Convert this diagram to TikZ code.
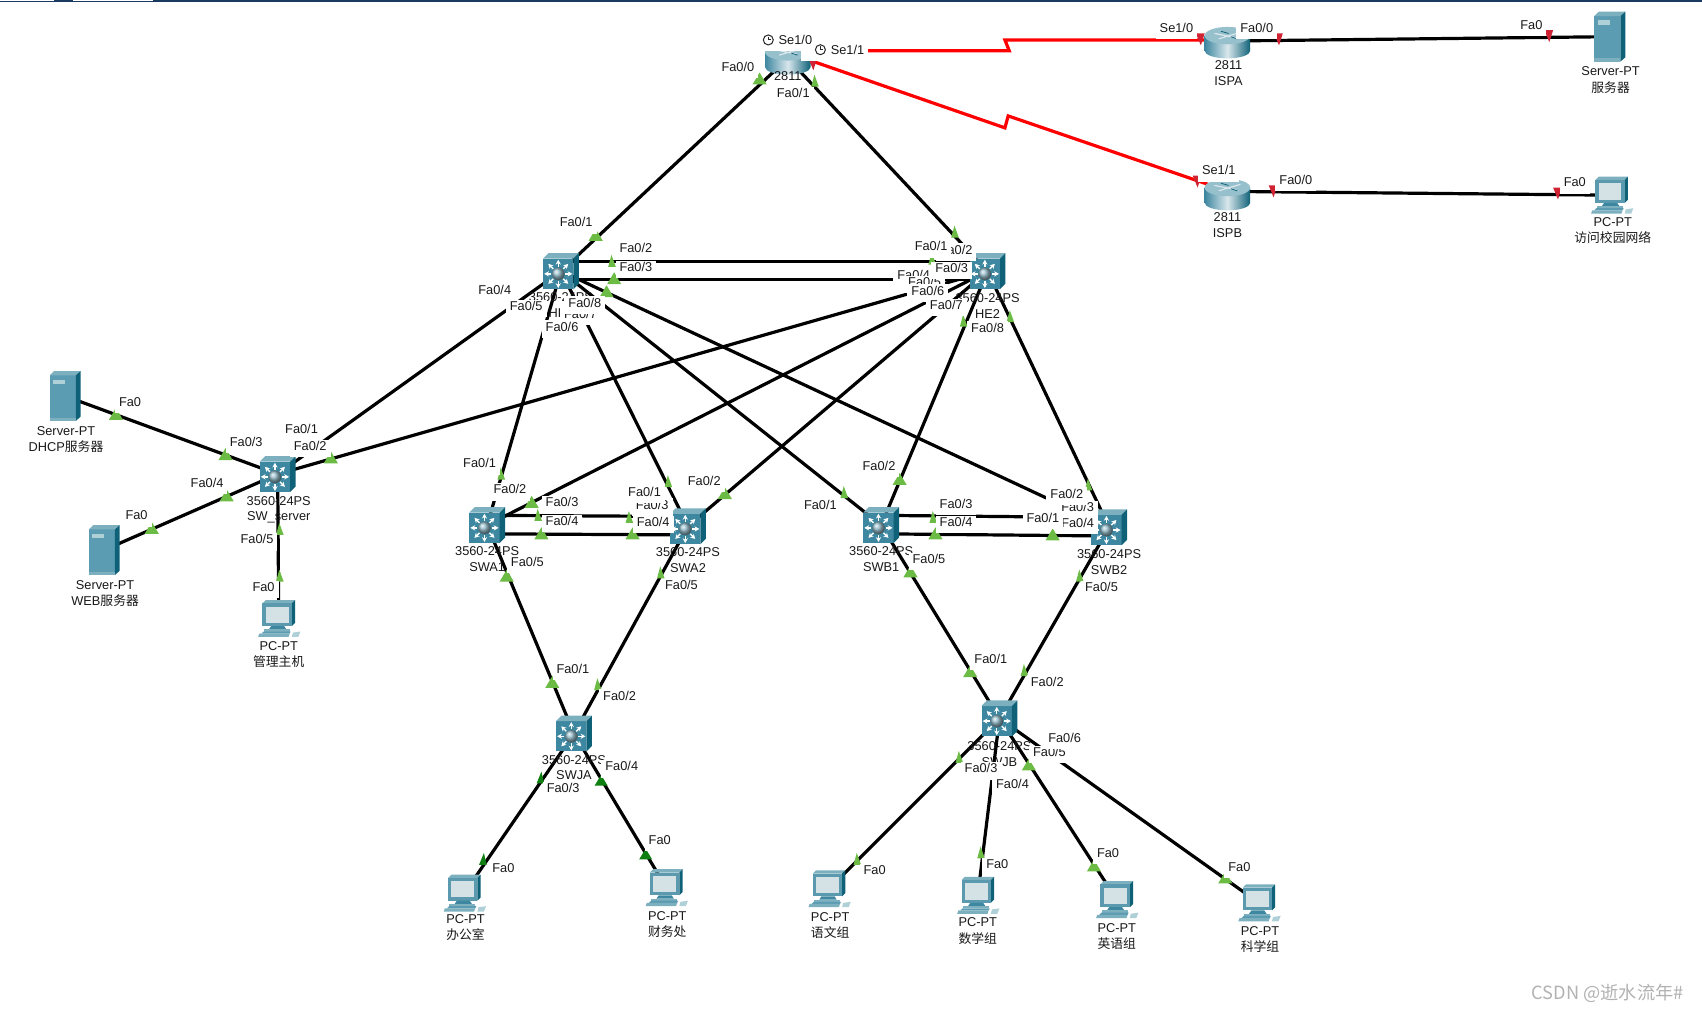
\documentclass[tikz,border=0pt]{standalone}
\usepackage{fontspec}
\setmainfont{Liberation Sans}
\newfontfamily\cjk{Noto Sans CJK SC}
\usetikzlibrary{calc,arrows.meta}
\definecolor{tealF}{HTML}{3E87A0}
\definecolor{tealT}{HTML}{7CB0BF}
\definecolor{tealS}{HTML}{0F6178}
\definecolor{srvF}{HTML}{5B9CB2}
\definecolor{grn}{HTML}{6CBB45}
\definecolor{dgrn}{HTML}{0E7F10}
\definecolor{rdm}{HTML}{CF2233}
\definecolor{barc}{HTML}{1B3A5F}
\newcounter{labn}
\newcounter{devn}
\tikzset{
  dev/.style={inner sep=0pt,minimum size=0pt,outer sep=0pt},
  link/.style={draw=black,line width=1.6pt},
  serial/.style={draw=red,line width=1.6pt,line join=miter},
  iflab/.style={fill=white,inner xsep=2pt,inner ysep=0.8pt,text height=4.6pt,text depth=2.6pt,font=\fontsize{6.4}{7}\selectfont,text=black!90},
  devlab/.style={inner sep=0pt,font=\fontsize{6.4}{7}\selectfont,text=black!90},
  swpic/.pic={
    \fill[tealF] (-16.5,-11.5) rectangle (11.5,16.5);
    \fill[tealT] (-16.5,-11.5) -- (-11.5,-16.5) -- (16.5,-16.5) -- (11.5,-11.5) -- cycle;
    \fill[tealS] (11.5,-11.5) -- (16.5,-16.5) -- (16.5,11.5) -- (11.5,16.5) -- cycle;
    \foreach \a in {0,45,...,315}
      \draw[white,line width=0.7pt,-{Stealth[length=2.4pt,width=2.6pt]}] ($(-2.5,2.5)+(\a:6.5)$) -- ($(-2.5,2.5)+(\a:13)$);
    \shade[ball color=tealF!55!white] (-2.5,2.5) circle (5.8);
  },
  rtpic/.pic={
    \path[left color=tealF,right color=tealS,middle color=tealF!20!white]
      (-21,-6) -- (-21,8) arc[start angle=180,end angle=0,x radius=21,y radius=7] -- (21,-6) -- cycle;
    \fill[tealT!80!white] (0,-6) ellipse[x radius=21,y radius=8];
    \draw[white!85!tealS,line width=0.6pt] (-12,-8) -- (8,-4) (-8,-3) -- (12,-9);
    \draw[tealS,line width=0.4pt] (-6,-10) -- (1,-8) (3,-5) -- (9,-3);
  },
  srvpic/.pic={
    \fill[srvF] (-14,-19) rectangle (10,23);
    \fill[tealT] (-14,-19) -- (-10,-23) -- (14.5,-23) -- (10,-19) -- cycle;
    \fill[tealS] (10,-19) -- (14.5,-23) -- (14.5,19) -- (10,23) -- cycle;
    \fill[tealT!60!white] (-11,-15) rectangle (0,-11);
    \fill[tealT] (-14,20) rectangle (10,23);
  },
  pcpic/.pic={
    \fill[tealT] (-15,-14) -- (-12,-17) -- (15,-17) -- (12,-14) -- cycle;
    \fill[tealS] (12,-14) -- (15,-17) -- (15,4) -- (12,7) -- cycle;
    \fill[tealF!85!white] (-15,-14) rectangle (12,7);
    \fill[black!10!tealT!30!white] (-12,-11) rectangle (9,4);
    \fill[tealF] (-7,7) -- (5,7) -- (7,10) -- (-9,10) -- cycle;
    \fill[tealT] (-14,10) -- (10,10) -- (10,12) -- (-14,12) -- cycle;
    \fill[srvF] (-14,12) -- (11,12) -- (10,14) -- (-16,14) -- cycle;
    \fill[tealT] (-18,14) -- (10,14) -- (9,17) -- (-19,17) -- cycle;
    \fill[tealT!60!white] (13,13) -- (20,12) -- (18,17) -- (12,17) -- cycle;
  },
  clockpic/.pic={
    \draw[black!85,line width=0.5pt] (0,0) circle (4.6);
    \draw[black!85,line width=0.5pt] (0,-3) -- (0,0) -- (2.6,0);
  }
}
\newcommand\lab[3]{\stepcounter{labn}\node[iflab] (if\arabic{labn}) at (#1,#2+2.4) {#3};}
\newcommand\dlab[4]{\stepcounter{devn}\node[devlab] (dl\arabic{devn}) at (#1,#2) {#3};\stepcounter{devn}\node[devlab] (dl\arabic{devn}) at (#1,#2+14.5) {#4};}
\newcommand\gt[2]{\fill[grn,shift={(#1,#2)}] (-6.5,5) -- (0,-6) -- (6.5,5) -- cycle;}
\newcommand\gs[2]{\fill[grn,shift={(#1,#2)}] (-3.5,5) -- (-0.5,-6) -- (3.5,5) -- cycle;}
\newcommand\dt[2]{\fill[dgrn,shift={(#1,#2)}] (-6,5) -- (0,-5) -- (6,5) -- cycle;}
\newcommand\ds[2]{\fill[dgrn,shift={(#1,#2)}] (-3.5,5) -- (1,-6) -- (3.5,5) -- cycle;}
\newcommand\rt[2]{\fill[rdm,shift={(#1,#2)}] (-4,-5) -- (4,-5) -- (0.5,6) -- cycle;}
\begin{document}
\begin{tikzpicture}[x=0.54275pt,y=-0.54275pt]
\useasboundingbox (0,0) rectangle (1568,932.3);
\fill[white] (0,0) rectangle (1568,932.3);
\fill[barc] (0,0) rectangle (1568,2.3);
\fill[white] (0,0) rectangle (50,1.1);
\fill[white] (67,0) rectangle (141,1.1);
\begin{scope}[shift={(0.8,0.8)}]
% device anchors
\node[dev] (R) at (725,53) {};
\node[dev] (ISPA) at (1130,37) {};
\node[dev] (ISPB) at (1130,175.5) {};
\node[dev] (SrvA) at (1482,33) {};
\node[dev] (PCB) at (1484,179) {};
\node[dev] (HE1) at (516,249) {};
\node[dev] (HE2) at (909,249) {};
\node[dev] (SWS) at (255,436) {};
\node[dev] (DHCP) at (59,364) {};
\node[dev] (WEB) at (95,506) {};
\node[dev] (MG) at (256,569) {};
\node[dev] (SWA1) at (448,483) {};
\node[dev] (SWA2) at (633,484) {};
\node[dev] (SWB1) at (811,483) {};
\node[dev] (SWB2) at (1021,485) {};
\node[dev] (JA) at (528,675) {};
\node[dev] (JB) at (920,661) {};
\node[dev] (P1) at (427,822) {};
\node[dev] (P2) at (613,817) {};
\node[dev] (P3) at (763,818) {};
\node[dev] (P4) at (900,824) {};
\node[dev] (P5) at (1028,828) {};
\node[dev] (P6) at (1159,831) {};
\coordinate (ka) at (929,46);
\coordinate (kb) at (925,36);
\coordinate (kc) at (925,117);
\coordinate (kd) at (928,106);
\coordinate (RA) at (745,46);
\coordinate (RB) at (746,55);
\coordinate (IA) at (1130,36);
\coordinate (IB) at (1112,169);
% links
\draw[link] (R) -- (HE1);
\draw[link] (R) -- (HE2);
\draw[serial] (RA) -- (ka) -- (kb) -- (IA);
\draw[serial] (RB) -- (kc) -- (kd) -- (IB);
\draw[link] (ISPA) -- (SrvA);
\draw[link] (ISPB) -- (PCB);
\draw[link] ($(HE1)+(0,-9)$) -- ($(HE2)+(0,-9)$);
\draw[link] ($(HE1)+(0,8)$) -- ($(HE2)+(0,8)$);
\draw[link] (HE1) -- (SWS);
\draw[link] (HE2) -- (SWS);
\draw[link] (HE1) -- (SWA1);
\draw[link] (HE1) -- (SWA2);
\draw[link] (HE1) -- (SWB1);
\draw[link] (HE1) -- (SWB2);
\draw[link] (HE2) -- (SWA1);
\draw[link] (HE2) -- (SWA2);
\draw[link] (HE2) -- (SWB1);
\draw[link] (HE2) -- (SWB2);
\draw[link] ($(SWA1)+(0,-9)$) -- ($(SWA2)+(0,-9)$);
\draw[link] ($(SWA1)+(0,8)$) -- ($(SWA2)+(0,8)$);
\draw[link] ($(SWB1)+(0,-9)$) -- ($(SWB2)+(0,-9)$);
\draw[link] ($(SWB1)+(0,8)$) -- ($(SWB2)+(0,8)$);
\draw[link] (SWA1) -- (JA);
\draw[link] (SWA2) -- (JA);
\draw[link] (SWB1) -- (JB);
\draw[link] (SWB2) -- (JB);
\draw[link] (JA) -- (P1);
\draw[link] (JA) -- (P2);
\draw[link] (JB) -- (P3);
\draw[link] (JB) -- (P4);
\draw[link] (JB) -- (P5);
\draw[link] (JB) -- (P6);
\draw[link] (SWS) -- (DHCP);
\draw[link] (SWS) -- (WEB);
\draw[link] (SWS) -- (MG);
% icons
\foreach \n in {HE1,HE2,SWS,SWA1,SWA2,SWB1,SWB2,JA,JB} \pic at (\n) {swpic};
\pic at (R) {rtpic};
\pic at (1130,38) {rtpic};
\pic at (1130,178) {rtpic};
\foreach \n in {SrvA,DHCP,WEB} \pic at (\n) {srvpic};
\foreach \n in {PCB,MG,P1,P2,P3,P4,P5,P6} \pic at (\n) {pcpic};
% link-state marks
\gt{699}{72}\gs{750}{74}\gt{548}{216}\gs{563}{240}\gt{565}{256}\gt{558}{268}
\gs{879}{213}\gs{858}{238}\gs{887}{295}\gs{930}{291}\gs{461}{436}
\gt{489}{462}\gs{495}{474}\gt{498}{491}\gs{579}{476}\gt{582}{491}\gs{615}{443}\gt{667}{454}
\gt{466}{530}\gs{608}{527}\gs{777}{453}\gt{828}{441}\gs{859}{476}\gt{861}{491}\gt{969}{492}
\gs{1002}{446}\gt{838}{526}\gs{994}{530}
\gt{304}{421}\gs{257}{487}\gs{257}{530}\gt{207}{418}\gt{208}{456}\gt{106}{381}\gt{139}{486}
\gt{508}{628}\gs{550}{630}\ds{497}{716}\dt{553}{718}\dt{594}{786}\ds{444}{791}
\gt{893}{618}\gs{943}{617}\gs{883}{697}\gt{947}{704}\gs{789}{791}\gs{903}{785}\gt{1007}{797}\gt{1128}{808}
\rt{1105}{35}\rt{1177}{35}\rt{1426}{32}\rt{1102}{166}\rt{1172}{175}\rt{1434}{177}\rt{748}{58}
% device captions
\dlab{725}{69}{2811}{}
\dlab{1131}{59}{2811}{ISPA}
\dlab{1130}{199}{2811}{ISPB}
\dlab{1483}{65}{Server-PT}{\cjk 服务器}
\dlab{1485}{203.5}{PC-PT}{\cjk 访问校园网络}
\dlab{516}{273}{3560-24PS}{HE1}
\dlab{909}{274}{3560-24PS}{HE2}
\dlab{256}{461}{3560-24PS}{SW\_server}
\dlab{60}{396}{Server-PT}{DHCP{\cjk 服务器}}
\dlab{96}{538}{Server-PT}{WEB{\cjk 服务器}}
\dlab{256}{594}{PC-PT}{\cjk 管理主机}
\dlab{448}{507}{3560-24PS}{SWA1}
\dlab{633}{508}{3560-24PS}{SWA2}
\dlab{811}{507}{3560-24PS}{SWB1}
\dlab{1021}{510}{3560-24PS}{SWB2}
\dlab{528}{699}{3560-24PS}{SWJA}
\dlab{920}{687}{3560-24PS}{SWJB}
\dlab{428}{846}{PC-PT}{\cjk 办公室}
\dlab{614}{843}{PC-PT}{\cjk 财务处}
\dlab{764}{844}{PC-PT}{\cjk 语文组}
\dlab{900}{849}{PC-PT}{\cjk 数学组}
\dlab{1028}{854}{PC-PT}{\cjk 英语组}
\dlab{1160}{857}{PC-PT}{\cjk 科学组}
% interface labels
\lab{720}{36}{\hspace{13pt}Se1/0}\lab{768}{45}{\hspace{13pt}Se1/1}\lab{679}{61}{Fa0/0}\lab{730}{85}{Fa0/1}
\lab{1083}{25}{Se1/0}\lab{1157}{25}{Fa0/0}\lab{1410}{22}{Fa0}
\lab{1122}{156}{Se1/1}\lab{1193}{165}{Fa0/0}\lab{1450}{167}{Fa0}
\lab{530}{204}{Fa0/1}\lab{585}{228}{Fa0/2}\lab{585}{245}{Fa0/3}\lab{455}{266}{Fa0/4}
\lab{534}{288}{Fa0/7}\lab{484}{281}{Fa0/5}\lab{517}{300}{Fa0/6}\lab{538}{278}{Fa0/8}
\lab{880}{229}{Fa0/2}\lab{857}{226}{Fa0/1}\lab{841}{252}{Fa0/4}\lab{851}{259}{Fa0/5}\lab{876}{246}{Fa0/3}\lab{854}{267}{Fa0/6}\lab{871}{280}{Fa0/7}\lab{909}{301}{Fa0/8}
\lab{277}{394}{Fa0/1}\lab{285}{410}{Fa0/2}\lab{226}{406}{Fa0/3}\lab{190}{444}{Fa0/4}\lab{236}{496}{Fa0/5}\lab{242}{540}{Fa0}
\lab{119}{369}{Fa0}\lab{125}{474}{Fa0}
\lab{441}{426}{Fa0/1}\lab{469}{450}{Fa0/2}\lab{517}{462}{Fa0/3}\lab{517}{479}{Fa0/4}\lab{485}{517}{Fa0/5}
\lab{600}{464}{Fa0/3}\lab{593}{452}{Fa0/1}\lab{601}{480}{Fa0/4}\lab{648}{442}{Fa0/2}\lab{627}{538}{Fa0/5}
\lab{755}{464}{Fa0/1}\lab{809}{428}{Fa0/2}\lab{880}{463}{Fa0/3}\lab{880}{480}{Fa0/4}\lab{855}{514}{Fa0/5}
\lab{992}{466}{Fa0/3}\lab{982}{454}{Fa0/2}\lab{992}{481}{Fa0/4}\lab{960}{476}{Fa0/1}\lab{1014}{540}{Fa0/5}
\lab{527}{615}{Fa0/1}\lab{570}{640}{Fa0/2}\lab{518}{725}{Fa0/3}\lab{572}{705}{Fa0/4}\lab{463}{799}{Fa0}\lab{607}{773}{Fa0}
\lab{912}{606}{Fa0/1}\lab{964}{627}{Fa0/2}\lab{903}{707}{Fa0/3}\lab{932}{721}{Fa0/4}\lab{966}{692}{Fa0/5}\lab{980}{679}{Fa0/6}
\lab{805}{801}{Fa0}\lab{918}{795}{Fa0}\lab{1020}{785}{Fa0}\lab{1141}{798}{Fa0}
\pic at (707,36) {clockpic};
\pic at (755,45) {clockpic};
\end{scope}
\node[inner sep=0pt,text=black!30,font=\cjk\fontsize{9.1}{10}\selectfont] (wm) at (1481,915) {CSDN @逝水流年\#};
\end{tikzpicture}
\end{document}
